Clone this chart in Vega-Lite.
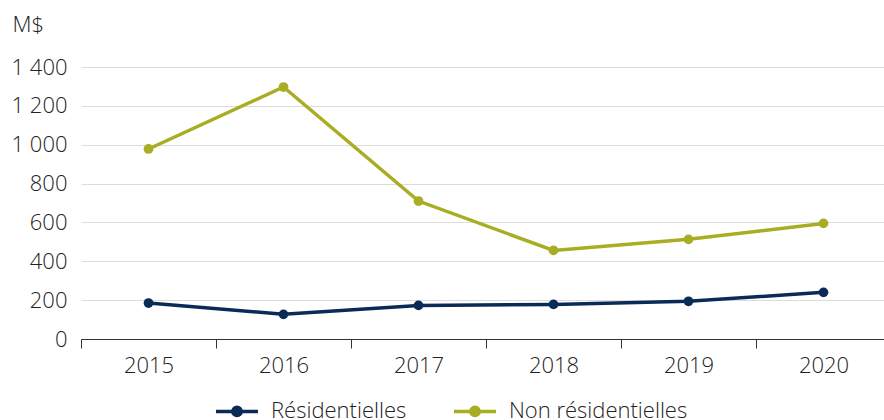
{
  "$schema": "https://vega.github.io/schema/vega-lite/v6.json",
  "width": 803,
  "height": 272,
  "autosize": {"type": "none"},
  "padding": {"left": 81, "top": 67, "right": 0, "bottom": 81},
  "background": "white",
  "config": {
    "view": {"stroke": null},
    "font": "Open Sans"
  },
  "data": {
    "values": [
      {"annee": "2015", "serie": "Résidentielles", "valeur": 185},
      {"annee": "2016", "serie": "Résidentielles", "valeur": 127},
      {"annee": "2017", "serie": "Résidentielles", "valeur": 173},
      {"annee": "2018", "serie": "Résidentielles", "valeur": 178},
      {"annee": "2019", "serie": "Résidentielles", "valeur": 194},
      {"annee": "2020", "serie": "Résidentielles", "valeur": 240},
      {"annee": "2015", "serie": "Non résidentielles", "valeur": 978},
      {"annee": "2016", "serie": "Non résidentielles", "valeur": 1297},
      {"annee": "2017", "serie": "Non résidentielles", "valeur": 710},
      {"annee": "2018", "serie": "Non résidentielles", "valeur": 456},
      {"annee": "2019", "serie": "Non résidentielles", "valeur": 513},
      {"annee": "2020", "serie": "Non résidentielles", "valeur": 595}
    ]
  },
  "mark": {"type": "line", "strokeWidth": 3.5, "point": {"filled": true, "size": 95}},
  "encoding": {
    "x": {
      "field": "annee",
      "type": "ordinal",
      "scale": {"type": "band", "paddingInner": 0, "paddingOuter": 0, "range": [0, 810]},
      "axis": {
        "title": null,
        "labelAngle": 0,
        "labelFontSize": 22,
        "labelFontWeight": 300,
        "labelColor": "#222222",
        "labelPadding": 7,
        "tickBand": "extent",
        "tickSize": 9,
        "tickColor": "#333333",
        "domainColor": "#333333",
        "grid": false
      }
    },
    "y": {
      "field": "valeur",
      "type": "quantitative",
      "scale": {"domain": [0, 1400]},
      "axis": {
        "values": [0, 200, 400, 600, 800, 1000, 1200, 1400],
        "labelExpr": "replace(format(datum.value, ','), ',', ' ')",
        "title": "M$",
        "titleAngle": 0,
        "titleAlign": "left",
        "titleBaseline": "alphabetic",
        "titleX": -69,
        "titleY": -36,
        "titleFontSize": 22,
        "titleFontWeight": 300,
        "titleColor": "#222222",
        "labelFontSize": 22,
        "labelFontWeight": 300,
        "labelColor": "#222222",
        "labelPadding": 14,
        "ticks": false,
        "domain": false,
        "grid": true,
        "gridColor": "#dcdcdc",
        "gridWidth": 1.2
      }
    },
    "color": {
      "field": "serie",
      "type": "nominal",
      "scale": {"domain": ["Résidentielles", "Non résidentielles"], "range": ["#0b2b57", "#a9ad23"]},
      "legend": {
        "title": null,
        "orient": "none",
        "legendX": 133,
        "legendY": 321,
        "direction": "horizontal",
        "symbolType": "M-1,0H1M0.2,0A0.2,0.2,0,1,1,-0.2,0A0.2,0.2,0,1,1,0.2,0Z",
        "symbolSize": 1764,
        "symbolStrokeWidth": 3.5,
        "labelFontSize": 22,
        "labelFontWeight": 300,
        "labelColor": "#222222",
        "labelLimit": 400,
        "labelOffset": 11,
        "columnPadding": 40
      }
    }
  }
}
